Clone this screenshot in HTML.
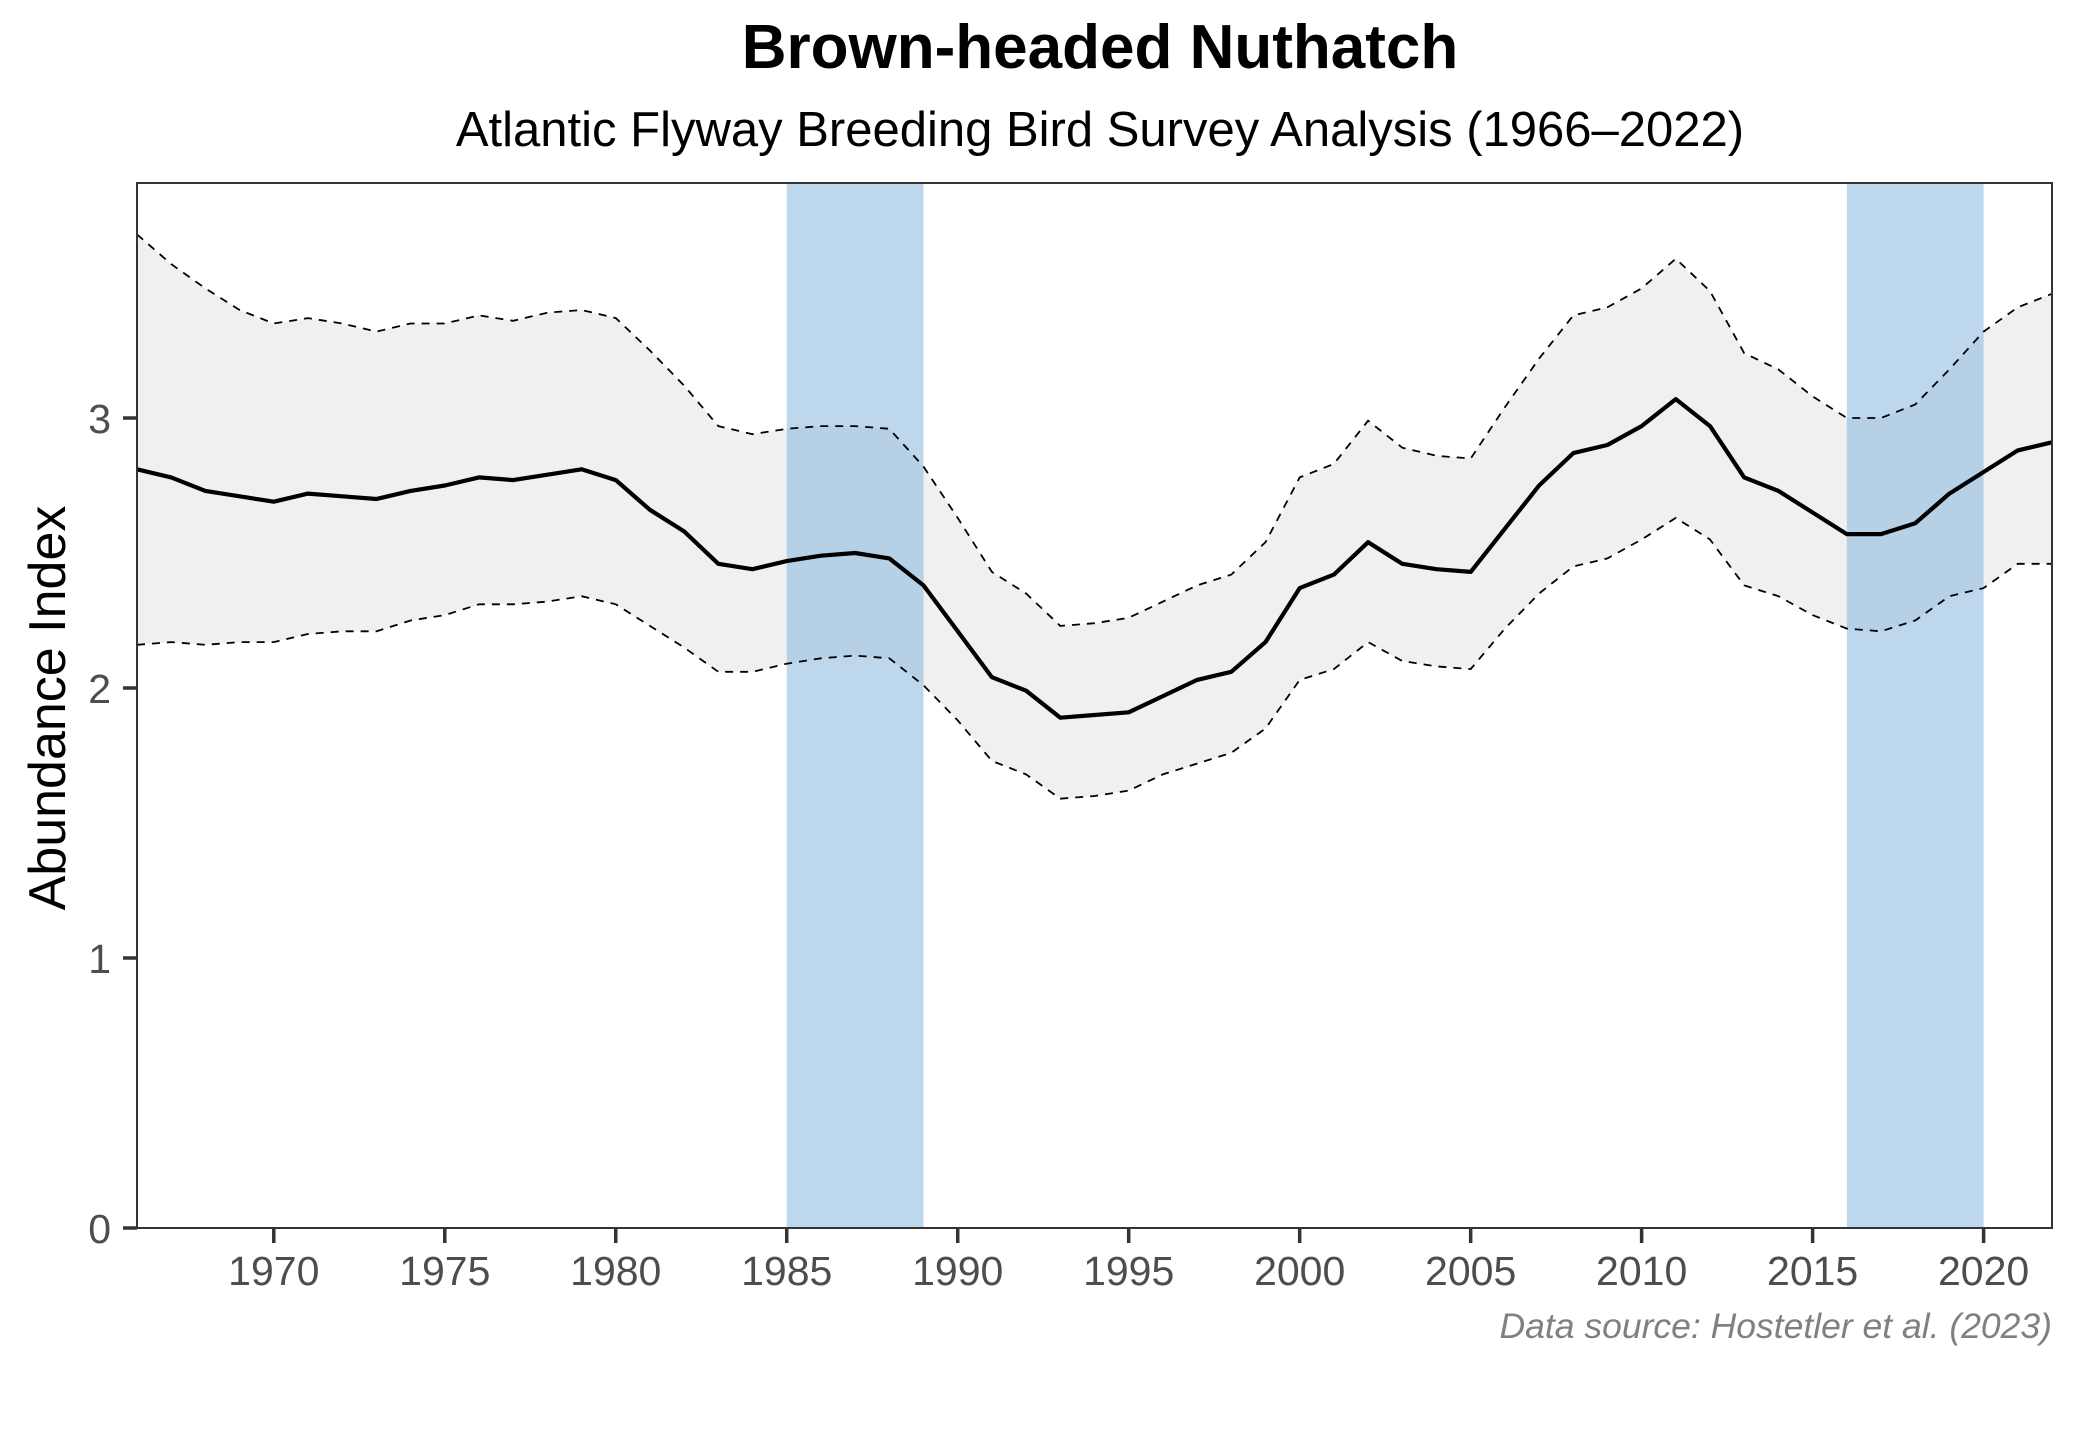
<!DOCTYPE html>
<html><head><meta charset="utf-8"><style>
html,body{margin:0;padding:0;background:#fff}
svg{display:block}
text{font-family:"Liberation Sans",Arial,sans-serif}
</style></head><body>
<svg id="s" width="2080" height="1440" viewBox="0 0 2080 1440" xmlns="http://www.w3.org/2000/svg">
<rect width="2080" height="1440" fill="#fff"/>
<text x="1100" y="68" text-anchor="middle" font-size="62" font-weight="bold">Brown-headed Nuthatch</text>
<text x="1100" y="146" text-anchor="middle" font-size="49">Atlantic Flyway Breeding Bird Survey Analysis (1966–2022)</text>
<g id="plot"></g>
<rect x="137" y="183" width="1915" height="1045" fill="none" stroke="#333" stroke-width="2"/>
<text transform="translate(65,708) rotate(-90)" text-anchor="middle" font-size="52">Abundance Index</text>
<text x="2052" y="1338" text-anchor="end" font-size="35.5" font-style="italic" fill="#808080">Data source: Hostetler et al. (2023)</text>
</svg>
<script>
var m=[2.81,2.78,2.73,2.71,2.69,2.72,2.71,2.70,2.73,2.75,2.78,2.77,2.79,2.81,2.77,2.66,2.58,2.46,2.44,2.47,2.49,2.50,2.48,2.38,2.21,2.04,1.99,1.89,1.90,1.91,1.97,2.03,2.06,2.17,2.37,2.42,2.54,2.46,2.44,2.43,2.59,2.75,2.87,2.90,2.97,3.07,2.97,2.78,2.73,2.65,2.57,2.57,2.61,2.72,2.80,2.88,2.91];
var u=[3.68,3.57,3.48,3.40,3.35,3.37,3.35,3.32,3.35,3.35,3.38,3.36,3.39,3.40,3.37,3.25,3.12,2.97,2.94,2.96,2.97,2.97,2.96,2.82,2.63,2.43,2.35,2.23,2.24,2.26,2.32,2.38,2.42,2.54,2.78,2.83,2.99,2.89,2.86,2.85,3.04,3.22,3.38,3.41,3.48,3.59,3.47,3.24,3.18,3.08,3.00,3.00,3.05,3.18,3.32,3.41,3.46];
var l=[2.16,2.17,2.16,2.17,2.17,2.20,2.21,2.21,2.25,2.27,2.31,2.31,2.32,2.34,2.31,2.23,2.15,2.06,2.06,2.09,2.11,2.12,2.11,2.01,1.88,1.73,1.68,1.59,1.60,1.62,1.68,1.72,1.76,1.85,2.03,2.07,2.17,2.10,2.08,2.07,2.22,2.35,2.45,2.48,2.55,2.63,2.55,2.38,2.34,2.27,2.22,2.21,2.25,2.34,2.37,2.46,2.46];
var PX=(2052-137)/56;
function X(yr){return 137+(yr-1966)*PX}
function Y(v){return 1228-v*270}
function pts(a){return a.map(function(v,i){return X(1966+i).toFixed(1)+","+Y(v).toFixed(1)}).join(" ")}
var h="";
var rev=[];for(var i=l.length-1;i>=0;i--)rev.push(X(1966+i).toFixed(1)+","+Y(l[i]).toFixed(1));
h+='<polygon points="'+pts(u)+' '+rev.join(" ")+'" fill="#f0f0f0"/>';
[[1985,1989],[2016,2020]].forEach(function(b){h+='<rect x="'+X(b[0])+'" y="183" width="'+(X(b[1])-X(b[0]))+'" height="1045" fill="#7bafdc" fill-opacity="0.5"/>'});
h+='<polyline points="'+pts(u)+'" fill="none" stroke="#000" stroke-width="1.8" stroke-dasharray="8,7"/>';
h+='<polyline points="'+pts(l)+'" fill="none" stroke="#000" stroke-width="1.8" stroke-dasharray="8,7"/>';
h+='<polyline points="'+pts(m)+'" fill="none" stroke="#000" stroke-width="4.2" stroke-linejoin="round"/>';
for(var v=0;v<=3;v++){var y=Y(v);h+='<line x1="123" x2="137" y1="'+y+'" y2="'+y+'" stroke="#333" stroke-width="3.5"/><text x="111" y="'+(y+15)+'" text-anchor="end" font-size="41" fill="#4d4d4d">'+v+'</text>';}
for(var yr=1970;yr<=2020;yr+=5){var x=X(yr);h+='<line x1="'+x+'" x2="'+x+'" y1="1228" y2="1243" stroke="#333" stroke-width="3.5"/><text x="'+x+'" y="1285" text-anchor="middle" font-size="41" fill="#4d4d4d">'+yr+'</text>';}
document.getElementById("plot").innerHTML=h;
</script>
</body></html>
